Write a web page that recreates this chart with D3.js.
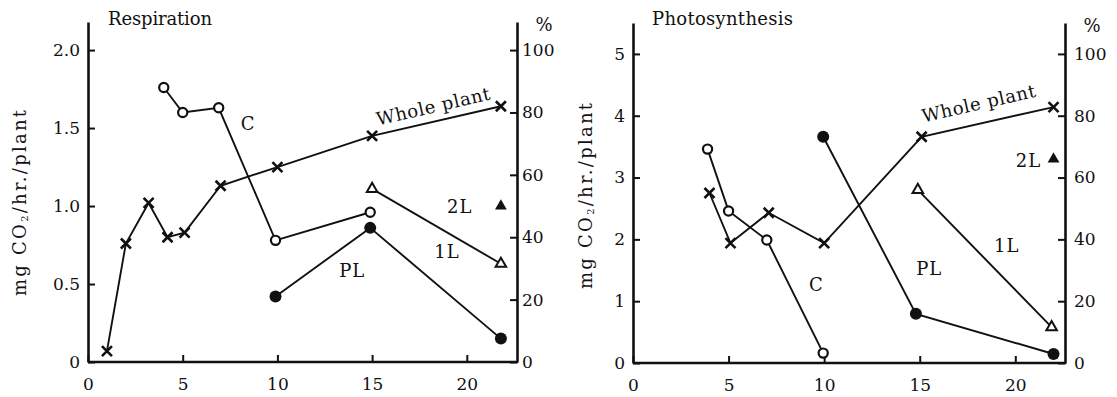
<!DOCTYPE html>
<html>
<head>
<meta charset="utf-8">
<script src="https://cdn.jsdelivr.net/npm/d3@7"></script>
<style>
  body { margin: 0; background: #fff; }
  text { font-family: "DejaVu Serif", serif; fill: #111; }
</style>
</head>
<body>
<div class="diagram"></div>
<script>
var width = 1117, height = 397;

// DATA
var xTicks = [0, 5, 10, 15, 20];
var respTicks = [0, 0.5, 1.0, 1.5, 2.0];
var photoTicks = [0, 1, 2, 3, 4, 5];
var pctTicks = [0, 20, 40, 60, 80, 100];

// Respiration: whole plant in mg CO2/hr./plant, parts in %
var respWholeDays = [1, 2, 3.2, 4.2, 5.1, 7, 10, 15, 21.8];
var respWholeMg   = [0.07, 0.76, 1.02, 0.80, 0.83, 1.13, 1.25, 1.45, 1.64];
var respCDays  = [4, 5, 6.9, 9.9, 14.9];
var respCPct   = [88, 80, 81.5, 39, 48];
var respPLDays = [9.9, 14.9, 21.8];
var respPLPct  = [21, 43, 7.5];
var resp1LDays = [15, 21.8];
var resp1LPct  = [55.5, 31.5];
var resp2LDays = [21.8];
var resp2LPct  = [50];

// Photosynthesis
var photoWholeDays = [4, 5.1, 7.1, 10, 15.1, 22];
var photoWholeMg   = [2.75, 1.94, 2.43, 1.94, 3.66, 4.14];
var photoCDays  = [3.9, 5, 7, 9.95];
var photoCPct   = [69.2, 49.2, 39.8, 3.2];
var photoPLDays = [9.95, 14.8, 22];
var photoPLPct  = [73.2, 15.9, 2.9];
var photo1LDays = [14.9, 21.9];
var photo1LPct  = [56, 11.6];
var photo2LDays = [22];
var photo2LPct  = [66];

function zip(xs, ys) { return xs.map(function(x, i) { return {x: x, y: ys[i]}; }); }

var svg = d3.select('.diagram')
  .append('svg')
  .attr('width', width)
  .attr('height', height);

var panels = [
  {
    title: 'Respiration', titleX: 108, titleW: 104, titleY: 25,
    left: 88, right: 517, bottom: 362, top: 22,
    xMax: 22.65, yMax: 2.18, pctMax: 109,
    yTicks: respTicks, yFmt: function(d) { return d === 0 ? '0' : d.toFixed(1); },
    ylabX: 21, ylabY: 203,
    pctPad: 5,
    whole: zip(respWholeDays, respWholeMg),
    C: zip(respCDays, respCPct),
    PL: zip(respPLDays, respPLPct),
    L1: zip(resp1LDays, resp1LPct),
    L2: zip(resp2LDays, resp2LPct),
    labels: [
      {t: 'C', x: 8.45, y: 1.52},
      {t: 'PL', x: 13.95, y: 0.58},
      {t: '1L', x: 18.95, y: 0.70},
      {t: '2L', x: 20.3, y: 0.99, anchor: 'end'}
    ],
    wholeLab: {x: 18.3, y: 1.6, rot: -13}
  },
  {
    title: 'Photosynthesis', titleX: 652, titleW: 141, titleY: 25,
    left: 633, right: 1065, bottom: 363, top: 23,
    xMax: 22.6, yMax: 5.5, pctMax: 110,
    yTicks: photoTicks, yFmt: function(d) { return String(d); },
    ylabX: 587, ylabY: 196,
    pctPad: 9,
    whole: zip(photoWholeDays, photoWholeMg),
    C: zip(photoCDays, photoCPct),
    PL: zip(photoPLDays, photoPLPct),
    L1: zip(photo1LDays, photo1LPct),
    L2: zip(photo2LDays, photo2LPct),
    labels: [
      {t: 'C', x: 9.6, y: 1.25},
      {t: 'PL', x: 15.5, y: 1.5},
      {t: '1L', x: 19.55, y: 1.88},
      {t: '2L', x: 21.35, y: 3.25, anchor: 'end'}
    ],
    wholeLab: {x: 18.15, y: 4.1, rot: -12.8}
  }
];

panels.forEach(drawPanel);

function drawPanel(p) {
  var g = svg.append('g');

  var x = d3.scaleLinear().domain([0, p.xMax]).range([p.left, p.right]);
  var y = d3.scaleLinear().domain([0, p.yMax]).range([p.bottom, p.top]);
  var yp = d3.scaleLinear().domain([0, p.pctMax]).range([p.bottom, p.top]);

  // AXES
  var ax = g.append('g')
    .attr('transform', 'translate(0,' + p.bottom + ')')
    .call(d3.axisBottom(x).tickValues(xTicks).tickSizeInner(-7).tickSizeOuter(0).tickPadding(16)
      .tickFormat(function(d) { return d; }));
  var ay = g.append('g')
    .attr('transform', 'translate(' + p.left + ',0)')
    .call(d3.axisLeft(y).tickValues(p.yTicks).tickSizeInner(-7).tickSizeOuter(0).tickPadding(8)
      .tickFormat(p.yFmt));
  var ar = g.append('g')
    .attr('transform', 'translate(' + p.right + ',0)')
    .call(d3.axisRight(yp).tickValues(pctTicks).tickSizeInner(-7).tickSizeOuter(0).tickPadding(p.pctPad));

  [ax, ay, ar].forEach(function(a) {
    a.attr('font-family', null).attr('font-size', null);
    a.select('.domain').attr('stroke', '#111').attr('stroke-width', 2.6);
    a.selectAll('.tick line').attr('stroke', '#111').attr('stroke-width', 2);
    a.selectAll('.tick text')
      .attr('font-size', 17)
      .attr('fill', '#111');
  });
  // x axis runs across to the right-hand axis
  ax.select('.domain').attr('d', 'M' + p.left + ',0H' + (p.right + 1));

  // % sign
  g.append('text')
    .attr('x', p.right + 27).attr('y', p.top + 9)
    .attr('text-anchor', 'middle')
    .attr('font-size', 18)
    .text('%');

  // title
  g.append('text')
    .attr('x', p.titleX).attr('y', p.titleY)
    .attr('font-size', 18)
    .attr('textLength', p.titleW)
    .attr('lengthAdjust', 'spacing')
    .text(p.title);

  // y label
  var yl = g.append('text')
    .attr('transform', 'translate(' + p.ylabX + ',' + p.ylabY + ') rotate(-90)')
    .attr('text-anchor', 'middle')
    .attr('dominant-baseline', 'middle')
    .attr('font-size', 18)
    .attr('textLength', 186)
    .attr('lengthAdjust', 'spacing');
  yl.append('tspan').text('mg CO');
  yl.append('tspan').attr('font-size', 10).attr('dy', 4).text('2');
  yl.append('tspan').attr('dy', -4).text('/hr./plant');

  // LINES
  var lineMg = d3.line().x(function(d) { return x(d.x); }).y(function(d) { return y(d.y); });
  var linePct = d3.line().x(function(d) { return x(d.x); }).y(function(d) { return yp(d.y); });

  g.append('path').attr('d', lineMg(p.whole)).attr('fill', 'none').attr('stroke', '#111').attr('stroke-width', 1.9);
  [p.C, p.PL, p.L1].forEach(function(s) {
    g.append('path').attr('d', linePct(s)).attr('fill', 'none').attr('stroke', '#111').attr('stroke-width', 1.9);
  });

  // MARKERS
  g.selectAll('.cross')
    .data(p.whole)
    .enter()
    .append('path')
    .attr('class', 'cross')
    .attr('transform', function(d) { return 'translate(' + x(d.x) + ',' + y(d.y) + ')'; })
    .attr('d', 'M-5,-5L5,5M-5,5L5,-5')
    .attr('stroke', '#111')
    .attr('stroke-width', 2.6)
    .attr('fill', 'none');

  g.selectAll('.openc')
    .data(p.C)
    .enter()
    .append('circle')
    .attr('cx', function(d) { return x(d.x); })
    .attr('cy', function(d) { return yp(d.y); })
    .attr('r', 4.6)
    .attr('fill', '#fff')
    .attr('stroke', '#111')
    .attr('stroke-width', 2.2);

  g.selectAll('.fullc')
    .data(p.PL)
    .enter()
    .append('circle')
    .attr('cx', function(d) { return x(d.x); })
    .attr('cy', function(d) { return yp(d.y); })
    .attr('r', 6)
    .attr('fill', '#111');

  var tri = d3.symbol().type(d3.symbolTriangle).size(48);
  g.selectAll('.opent')
    .data(p.L1)
    .enter()
    .append('path')
    .attr('transform', function(d) { return 'translate(' + x(d.x) + ',' + yp(d.y) + ')'; })
    .attr('d', tri)
    .attr('fill', '#fff')
    .attr('stroke', '#111')
    .attr('stroke-width', 2);

  g.selectAll('.fullt')
    .data(p.L2)
    .enter()
    .append('path')
    .attr('transform', function(d) { return 'translate(' + x(d.x) + ',' + yp(d.y) + ')'; })
    .attr('d', d3.symbol().type(d3.symbolTriangle).size(60))
    .attr('fill', '#111');

  // LABELS
  p.labels.forEach(function(l) {
    g.append('text')
      .attr('x', x(l.x)).attr('y', y(l.y))
      .attr('text-anchor', l.anchor || 'middle')
      .attr('dominant-baseline', 'middle')
      .attr('font-size', 18)
      .attr('letter-spacing', 1)
      .text(l.t);
  });

  g.append('text')
    .attr('transform', 'translate(' + x(p.wholeLab.x) + ',' + y(p.wholeLab.y) + ') rotate(' + p.wholeLab.rot + ')')
    .attr('text-anchor', 'middle')
    .attr('font-size', 18)
    .attr('textLength', 116)
    .attr('lengthAdjust', 'spacing')
    .text('Whole plant');
}
</script>
</body>
</html>
